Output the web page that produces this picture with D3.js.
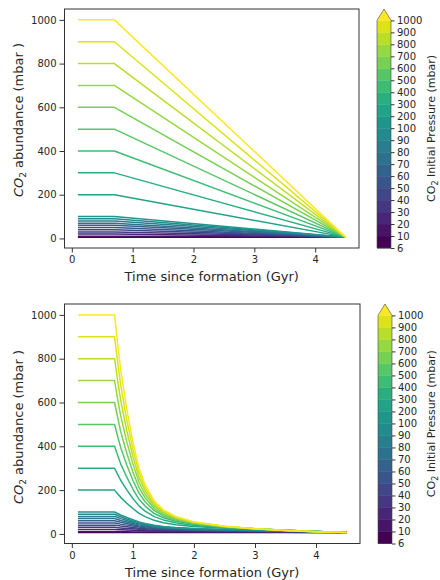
<!DOCTYPE html>
<html><head><meta charset="utf-8">
<script src="https://cdn.jsdelivr.net/npm/d3@7"></script>
<style>
body{margin:0;background:#fff}
svg{display:block}
text{font-family:"DejaVu Sans",sans-serif;fill:#262626}
</style>
</head><body><svg id="c" width="440" height="580"></svg>
<script>
// ---------------- data ----------------
const pressures = [6,10,20,30,40,50,60,70,80,90,100,200,300,400,500,600,700,800,900,1000];
const pressureTickLabels = ["6","10","20","30","40","50","60","70","80","90","100","200","300","400","500","600","700","800","900","1000"];
const xTicks = [0,1,2,3,4];
const yTicks = [0,200,400,600,800,1000];

// top panel: constant, then linear decline to present-day pressure
const timeLinear = [0.1, 0.7, 4.5];
const linearSeries = [
  [6,6,6],[10,10,6],[20,20,6],[30,30,6],[40,40,6],[50,50,6],[60,60,6],[70,70,6],[80,80,6],[90,90,6],
  [100,100,6],[200,200,6],[300,300,6],[400,400,6],[500,500,6],[600,600,6],[700,700,6],[800,800,6],[900,900,6],[1000,1000,6]
];

// bottom panel: constant, then rapid decay to present-day pressure
const timeExp = [0.1,0.7,0.75,0.8,0.9,1.0,1.1,1.2,1.35,1.5,1.7,2.0,2.5,3.0,3.5,4.0,4.5];
const expSeries = [
  [6,6,6,6,6,6,6,6,6,6,6,6,6,6,6,6,6],
  [10,10,9.8,9.7,9.4,9.1,8.8,8.6,8.3,8.1,7.9,7.7,7.4,7.3,7.1,6.8,6],
  [20,20,19.3,18.7,17.5,16.3,15.2,14.3,13.2,12.4,11.7,10.9,10.1,9.5,8.8,8.1,6],
  [30,30,28.7,27.5,25.3,23.1,21.0,19.3,17.3,16.0,14.8,13.5,12.1,11.0,10.0,8.8,6],
  [40,40,38.1,36.1,32.8,29.6,26.4,24.0,21.1,19.2,17.4,15.6,13.7,12.3,10.9,9.4,6],
  [50,50,47.3,44.7,40.2,35.8,31.6,28.4,24.6,22.1,19.8,17.5,15.1,13.4,11.7,9.8,6],
  [60,60,56.6,53.2,47.4,41.9,36.5,32.6,27.9,24.8,22.0,19.2,16.3,14.2,12.3,10.1,6],
  [70,70,65.8,61.6,54.5,47.8,41.3,36.6,31.0,27.3,24.0,20.7,17.4,15.0,12.8,10.3,6],
  [80,80,74.9,69.9,61.5,53.6,46.0,40.4,33.9,29.7,25.9,22.2,18.4,15.7,13.2,10.5,6],
  [90,90,84.1,78.2,68.5,59.2,50.5,44.1,36.7,31.9,27.6,23.5,19.3,16.3,13.6,10.7,6],
  [100,100,93.2,86.5,75.3,64.8,54.9,47.7,39.3,34.0,29.3,24.7,20.1,16.9,13.9,10.9,6],
  [200,200,183,167,140,116,94,79,62,51,42,34,26,20,16,11,6],
  [300,300,272,245,201,162,128,104,79,64,51,39,29,22,17,11,6],
  [400,400,359,320,259,205,158,127,93,74,58,44,31,23,17,11,6],
  [500,500,446,395,315,245,186,147,106,82,63,47,32,24,17,11,6],
  [600,600,532,468,368,283,212,165,116,89,68,49,33,24,17,11,6],
  [700,700,617,540,421,320,236,181,126,96,72,51,34,24,17,11,6],
  [800,800,702,611,471,354,258,197,135,101,75,53,34,24,16,10,6],
  [900,900,786,681,521,388,280,211,143,106,78,54,35,24,16,10,6],
  [1000,1000,870,750,570,420,300,225,150,110,80,55,35,24,16,10,6]
];

// ---------------- drawing ----------------
const svg = d3.select("#c");
const nLev = pressures.length;
const color = i => d3.interpolateViridis(i / (nLev - 1));

const panels = [
  {top: 9,   bottom: 248,   left: 64.5, right: 359, times: timeLinear, series: linearSeries, cbX: 377, ylabY: 120},
  {top: 304, bottom: 543.5, left: 64.5, right: 360, times: timeExp,    series: expSeries,    cbX: 378, ylabY: 427}
];

panels.forEach(p => {
  const x = d3.scaleLinear().domain([-0.12, 4.72]).range([p.left, p.right]);
  const y = d3.scaleLinear().domain([-43.7, 1049.7]).range([p.bottom, p.top]);
  const g = svg.append("g");

  const line = d3.line().x((d, i) => x(p.times[i])).y(d => y(d));
  p.series.forEach((s, i) => {
    g.append("path").attr("d", line(s)).attr("fill", "none")
      .attr("stroke", color(i)).attr("stroke-width", 1.5).attr("stroke-linejoin", "round");
  });

  // x axis
  const xa = g.append("g").attr("transform", `translate(0,${p.bottom})`)
    .call(d3.axisBottom(x).tickValues(xTicks).tickSize(4.5).tickPadding(3.5).tickFormat(d3.format("d")));
  xa.select(".domain").remove();
  xa.selectAll("line").attr("stroke", "#333");
  xa.selectAll("text").attr("font-size", 10).attr("font-family", "DejaVu Sans").attr("fill", "#262626");

  // y axis
  const ya = g.append("g").attr("transform", `translate(${p.left},0)`)
    .call(d3.axisLeft(y).tickValues(yTicks).tickSize(5).tickPadding(3).tickFormat(d3.format("d")));
  ya.select(".domain").remove();
  ya.selectAll("line").attr("stroke", "#333");
  ya.selectAll("text").attr("font-size", 10).attr("font-family", "DejaVu Sans").attr("fill", "#262626");

  // frame
  g.append("rect").attr("x", p.left).attr("y", p.top)
    .attr("width", p.right - p.left).attr("height", p.bottom - p.top)
    .attr("fill", "none").attr("stroke", "#333").attr("stroke-width", 1);

  // x label
  g.append("text").attr("x", (p.left + p.right) / 2).attr("y", p.bottom + 33)
    .attr("text-anchor", "middle").attr("font-size", 13).text("Time since formation (Gyr)");

  // y label
  const yl = g.append("text").attr("transform", `translate(22.5,${p.ylabY}) rotate(-90)`)
    .attr("text-anchor", "middle").attr("font-size", 13);
  yl.append("tspan").attr("font-style", "italic").text("CO");
  yl.append("tspan").attr("font-size", 9).attr("dy", 3).text("2");
  yl.append("tspan").attr("dy", -3).text(" abundance (mbar )");

  // colorbar
  const total = p.bottom - p.top;
  const L = total / 1.05;
  const barTop = p.bottom - L;
  const w = 14;
  const cy = d3.scaleLinear().domain([0, nLev - 1]).range([p.bottom, barTop]);
  const cb = svg.append("g");
  for (let i = 0; i < nLev - 1; i++) {
    cb.append("rect").attr("x", p.cbX).attr("y", cy(i + 1))
      .attr("width", w).attr("height", cy(i) - cy(i + 1) + 0.4)
      .attr("fill", color(i));
  }
  cb.append("path")
    .attr("d", `M${p.cbX},${barTop + 0.3}L${p.cbX + w},${barTop + 0.3}L${p.cbX + w / 2},${p.top}Z`)
    .attr("fill", color(nLev - 1));
  cb.append("path")
    .attr("d", `M${p.cbX},${p.bottom}L${p.cbX},${barTop}L${p.cbX + w / 2},${p.top}L${p.cbX + w},${barTop}L${p.cbX + w},${p.bottom}Z`)
    .attr("fill", "none").attr("stroke", "#444").attr("stroke-width", 0.6);
  const ca = cb.append("g").attr("transform", `translate(${p.cbX + w},0)`)
    .call(d3.axisRight(cy).tickValues(d3.range(nLev)).tickSize(3.5).tickPadding(2.5)
      .tickFormat(i => pressureTickLabels[i]));
  ca.select(".domain").remove();
  ca.selectAll("line").attr("stroke", "#333");
  ca.selectAll("text").attr("font-size", 10).attr("font-family", "DejaVu Sans").attr("fill", "#262626");

  const cl = cb.append("text")
    .attr("transform", `translate(435,${(p.top + p.bottom) / 2}) rotate(-90)`)
    .attr("text-anchor", "middle").attr("font-size", 11);
  cl.append("tspan").text("CO");
  cl.append("tspan").attr("font-size", 8).attr("dy", 2.5).text("2");
  cl.append("tspan").attr("dy", -2.5).text(" Initial Pressure (mbar)");
});
</script>
</body></html>
